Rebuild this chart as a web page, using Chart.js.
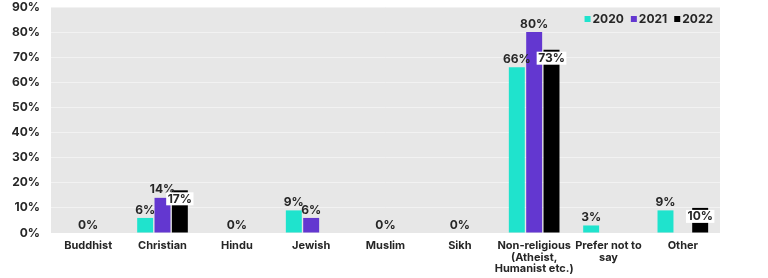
<!DOCTYPE html>
<html>
<head>
<meta charset="utf-8">
<script src="https://cdn.jsdelivr.net/npm/chart.js@4/dist/chart.umd.min.js"></script>
<style>
  html, body { margin: 0; padding: 0; background: #ffffff; }
  #wrap { width: 768px; height: 278px; }
</style>
</head>
<body>
<div id="wrap"><canvas id="c" width="768" height="278"></canvas></div>
<script>
const categories = [
  'Buddhist', 'Christian', 'Hindu', 'Jewish', 'Muslim', 'Sikh',
  ['Non-religious', '(Atheist,', 'Humanist etc.)'],
  ['Prefer not to', 'say'],
  'Other'
];
const seriesNames = ['2020', '2021', '2022'];
const values2020 = [null, 6, null, 9, null, null, 66, 3, 9];
const values2021 = [0, 14, 0, 6, 0, 0, 80, null, null];
const values2022 = [null, 17, null, null, null, null, 73, null, 10];
const yTicks = [0, 10, 20, 30, 40, 50, 60, 70, 80, 90];

const FONT = "'Inter', 'Open Sans', sans-serif";
const TEXT = '#262626';
const colors = ['#1fe3cd', '#6337d0', '#000000'];

const bgPlugin = {
  id: 'plotBg',
  beforeDraw(chart) {
    const { ctx, chartArea: a } = chart;
    ctx.save();
    ctx.fillStyle = '#e7e7e7';
    ctx.fillRect(a.left, a.top, a.right - a.left, a.bottom - a.top);
    ctx.restore();
  }
};

const labelPlugin = {
  id: 'valueLabels',
  afterDatasetsDraw(chart) {
    const { ctx } = chart;
    ctx.save();
    ctx.font = `700 12px ${FONT}`;
    ctx.textAlign = 'center';
    ctx.textBaseline = 'middle';
    chart.data.datasets.forEach((ds, di) => {
      const meta = chart.getDatasetMeta(di);
      meta.data.forEach((el, i) => {
        const v = ds.data[i];
        if (v === null || v === undefined) return;
        const t = v + '%';
        if (di === 2) {
          const w = ctx.measureText(t).width + 3;
          const cy = el.y + 8.5;
          ctx.fillStyle = '#ffffff';
          ctx.fillRect(el.x - w / 2, cy - 6.5, w, 13);
          ctx.fillStyle = TEXT;
          ctx.fillText(t, el.x, cy + 0.5);
        } else {
          ctx.fillStyle = TEXT;
          ctx.fillText(t, el.x, el.y - 8);
        }
      });
    });
    ctx.restore();
  }
};

const legendPlugin = {
  id: 'insideLegend',
  afterDraw(chart) {
    const { ctx, chartArea: a } = chart;
    ctx.save();
    ctx.font = `700 12px ${FONT}`;
    ctx.textBaseline = 'middle';
    ctx.textAlign = 'left';
    const box = 6, gapBox = 2, gapItem = 7;
    const items = chart.data.datasets.map(d => ({ label: d.label, color: d.backgroundColor }));
    let total = 0;
    items.forEach((it, k) => {
      total += box + gapBox + ctx.measureText(it.label).width + (k < items.length - 1 ? gapItem : 0);
    });
    let x = a.right - 7 - total;
    const y = a.top + 12;
    items.forEach(it => {
      ctx.fillStyle = it.color;
      ctx.fillRect(x, y - box / 2, box, box);
      x += box + gapBox;
      ctx.fillStyle = TEXT;
      ctx.fillText(it.label, x, y + 0.5);
      x += ctx.measureText(it.label).width + gapItem;
    });
    ctx.restore();
  }
};

const series = [values2020, values2021, values2022];
new Chart(document.getElementById('c'), {
  type: 'bar',
  data: {
    labels: categories,
    datasets: series.map((vals, k) => ({
      label: seriesNames[k],
      data: vals,
      backgroundColor: colors[k],
      borderWidth: 0,
      categoryPercentage: 0.7,
      barPercentage: 0.92
    }))
  },
  options: {
    responsive: false,
    animation: false,
    layout: { padding: { left: 0, top: 7, right: 48, bottom: 0 } },
    plugins: { legend: { display: false }, tooltip: { enabled: false } },
    scales: {
      x: {
        grid: { display: false, drawTicks: false },
        border: { display: false },
        ticks: {
          color: TEXT,
          font: { family: FONT, size: 11, weight: '700', lineHeight: 1.06 },
          padding: 7,
          maxRotation: 0,
          autoSkip: false
        },
        afterFit(s) { s.height = 45; s.paddingLeft = 0; s.paddingRight = 0; }
      },
      y: {
        min: 0, max: 90,
        afterBuildTicks(s) { s.ticks = yTicks.map(v => ({ value: v })); },
        grid: { color: 'rgba(255,255,255,0.45)', drawTicks: false },
        border: { display: false },
        ticks: {
          color: TEXT,
          font: { family: FONT, size: 12, weight: '700' },
          padding: 11,
          callback: v => v + '%'
        },
        afterFit(s) { s.width = 51; s.paddingTop = 0; s.paddingBottom = 0; }
      }
    }
  },
  plugins: [bgPlugin, labelPlugin, legendPlugin]
});
</script>
</body>
</html>
